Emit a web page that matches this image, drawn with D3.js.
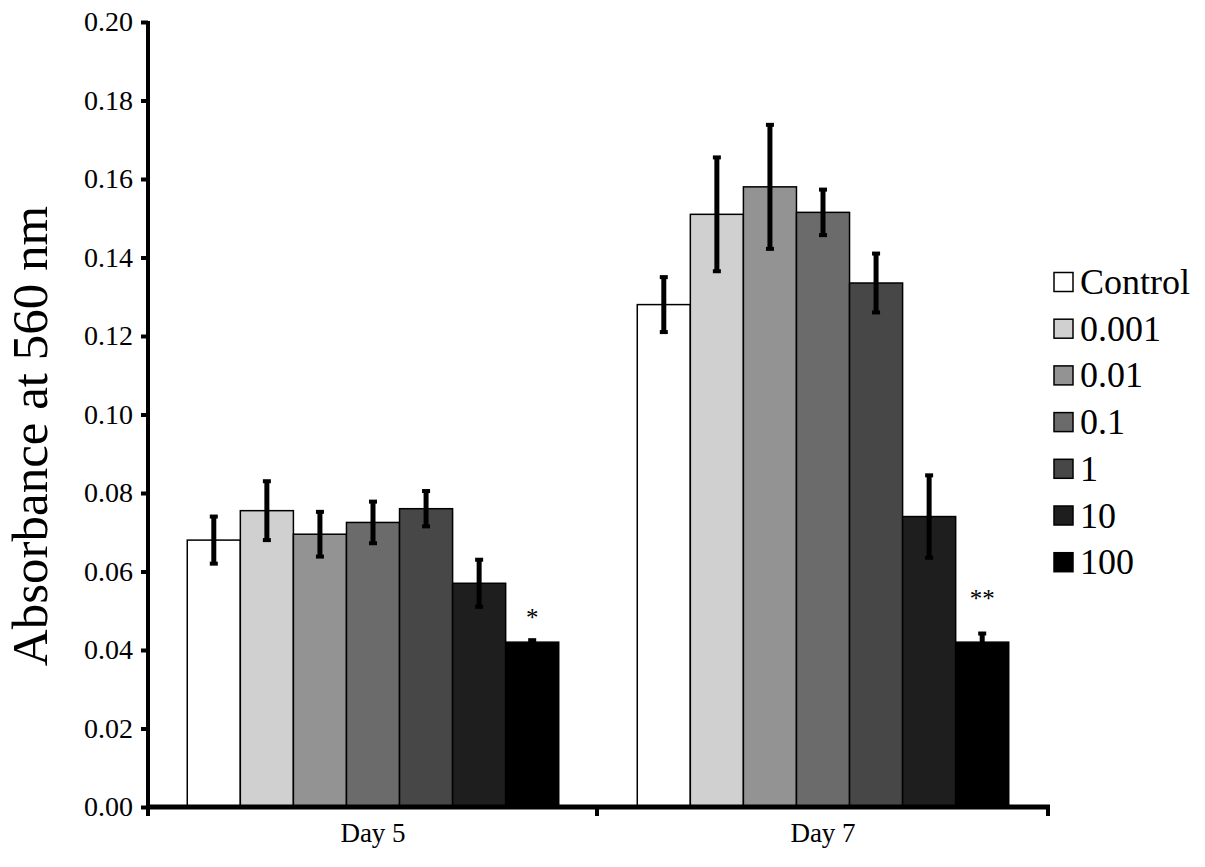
<!DOCTYPE html>
<html>
<head>
<meta charset="utf-8">
<script src="https://cdn.jsdelivr.net/npm/d3@7"></script>
<style>
  body { margin: 0; background: #fff; }
  svg text { font-family: "Liberation Serif", "Times New Roman", serif; fill: #000; }
</style>
</head>
<body>
<div id="chart-container"></div>
<script>
const days = ["Day 5", "Day 7"];
const doses = ["Control", "0.001", "0.01", "0.1", "1", "10", "100"];
const day5Values = [0.068, 0.0755, 0.0695, 0.0725, 0.076, 0.057, 0.042];
const day5Errors = [0.006, 0.0075, 0.0057, 0.0053, 0.0045, 0.006, 0.0005];
const day7Values = [0.128, 0.151, 0.158, 0.1515, 0.1335, 0.074, 0.042];
const day7Errors = [0.007, 0.0145, 0.0158, 0.0058, 0.0075, 0.0105, 0.0022];
const yTicks = [0, 0.02, 0.04, 0.06, 0.08, 0.10, 0.12, 0.14, 0.16, 0.18, 0.20];
const fills = ["#ffffff", "#d0d0d0", "#939393", "#6b6b6b", "#474747", "#1e1e1e", "#000000"];
const marks = [
  { day: "Day 5", dose: "100", text: "*", at: 0.046 },
  { day: "Day 7", dose: "100", text: "**", at: 0.051 }
];

const rows = [];
days.forEach((day, i) => {
  const vals = i === 0 ? day5Values : day7Values;
  const errs = i === 0 ? day5Errors : day7Errors;
  doses.forEach((dose, j) => rows.push({ day, dose, value: vals[j], err: errs[j], fill: fills[j] }));
});

const width = 1205, height = 867;
const svg = d3.select("#chart-container").append("svg")
  .attr("width", width)
  .attr("height", height);

const x0 = d3.scaleBand().domain(days).range([148, 1048]).paddingInner(0).paddingOuter(0);
const x1 = d3.scaleBand().domain(doses).range([0, x0.bandwidth()]).paddingInner(0).paddingOuter(0.74);
const y = d3.scaleLinear().domain([0, 0.2]).range([807, 22]);

// bars
svg.append("g").selectAll("rect")
  .data(rows)
  .enter().append("rect")
  .attr("x", d => x0(d.day) + x1(d.dose))
  .attr("y", d => y(d.value))
  .attr("width", x1.bandwidth())
  .attr("height", d => y(0) - y(d.value))
  .attr("fill", d => d.fill)
  .attr("stroke", "#000")
  .attr("stroke-width", 1.5);

// error bars
const eb = svg.append("g").selectAll("g")
  .data(rows)
  .enter().append("g")
  .attr("transform", d => `translate(${x0(d.day) + x1(d.dose) + x1.bandwidth() / 2},0)`);
eb.append("line")
  .attr("y1", d => y(d.value - d.err))
  .attr("y2", d => y(d.value + d.err))
  .attr("stroke", "#000")
  .attr("stroke-width", 5);
eb.append("rect")
  .attr("x", -4).attr("width", 8).attr("height", 4)
  .attr("y", d => y(d.value + d.err) - 2);
eb.append("rect")
  .attr("x", -4).attr("width", 8).attr("height", 4)
  .attr("y", d => y(d.value - d.err) - 2);

// significance marks
svg.append("g").selectAll("text")
  .data(marks)
  .enter().append("text")
  .attr("x", d => x0(d.day) + x1(d.dose) + x1.bandwidth() / 2)
  .attr("y", d => y(d.at))
  .attr("text-anchor", "middle")
  .style("font-size", "25px")
  .text(d => d.text);

// y axis
const yAxis = svg.append("g")
  .attr("transform", "translate(148,0)")
  .call(d3.axisLeft(y).tickValues(yTicks).tickFormat(d3.format(".2f")).tickSize(7).tickPadding(8));
yAxis.select(".domain").attr("stroke-width", 4).attr("d", `M0,${y(0.2) - 1}V${y(0) + 2}`);
yAxis.selectAll(".tick line").attr("stroke-width", 4);
yAxis.selectAll(".tick text").style("font-size", "28px").attr("font-family", null);

// x axis
const xAxis = svg.append("g")
  .attr("transform", `translate(0,${y(0)})`)
  .call(d3.axisBottom(x0).tickSize(0).tickPadding(16));
xAxis.select(".domain").attr("stroke-width", 5).attr("d", "M146,0H1050");
xAxis.selectAll(".tick text").style("font-size", "27px").attr("font-family", null);
xAxis.append("g").selectAll("line")
  .data([148, 597, 1048])
  .enter().append("line")
  .attr("x1", d => d).attr("x2", d => d)
  .attr("y1", 0).attr("y2", 9)
  .attr("stroke", "#000")
  .attr("stroke-width", 4);

// y title
svg.append("text")
  .attr("transform", "translate(47,436) rotate(-90)")
  .attr("text-anchor", "middle")
  .style("font-size", "51px")
  .text("Absorbance at 560 nm");

// legend
const legend = svg.append("g").attr("transform", "translate(1054,282)");
const item = legend.selectAll("g")
  .data(doses)
  .enter().append("g")
  .attr("transform", (d, i) => `translate(0,${i * 46.7})`);
item.append("rect")
  .attr("x", 0).attr("y", -9.5)
  .attr("width", 19).attr("height", 19)
  .attr("fill", (d, i) => fills[i])
  .attr("stroke", "#000")
  .attr("stroke-width", 1.5);
item.append("text")
  .attr("x", 26)
  .attr("y", 12)
  .style("font-size", "36px")
  .text(d => d);
</script>
</body>
</html>
